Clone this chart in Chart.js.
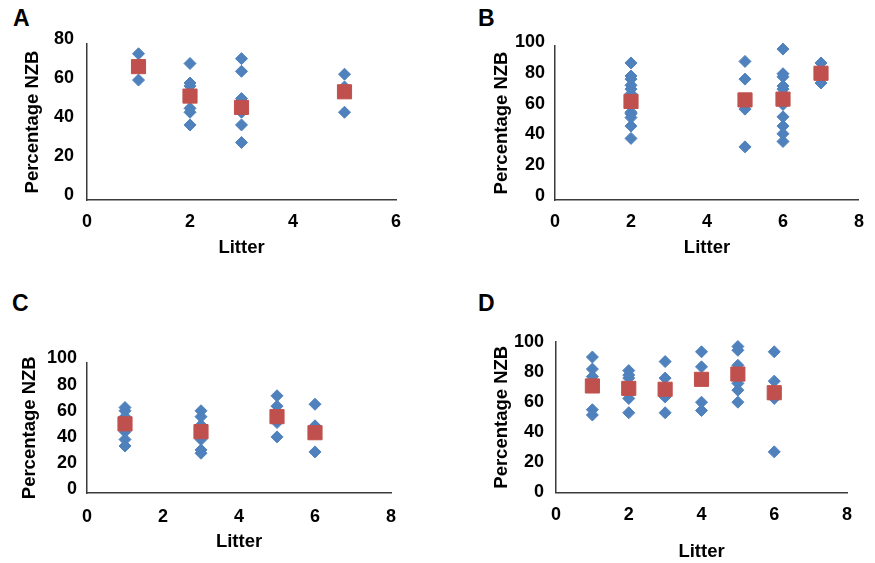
<!DOCTYPE html>
<html>
<head>
<meta charset="utf-8">
<script src="https://cdn.jsdelivr.net/npm/chart.js@4/dist/chart.umd.min.js"></script>
<style>
  body { margin: 0; background: #fff; }
  #page { position: relative; width: 875px; height: 563px; overflow: hidden; }
  canvas { position: absolute; }
  .tag { position: absolute; font: bold 23px "Liberation Sans", Arial, sans-serif; line-height: 23px; color: #000; }
</style>
</head>
<body>
<div id="page">
  <div class="tag" style="left:13px;top:7px">A</div>
  <div class="tag" style="left:478px;top:7px">B</div>
  <div class="tag" style="left:12px;top:292px">C</div>
  <div class="tag" style="left:478px;top:292px">D</div>
  <canvas id="chartA"></canvas>
  <canvas id="chartB"></canvas>
  <canvas id="chartC"></canvas>
  <canvas id="chartD"></canvas>
</div>
<script>
// Panel A
const litterA = [1, 1, 2, 2, 2, 2, 2, 2, 3, 3, 3, 3, 3, 3, 3, 5, 5, 5];
const nzbA    = [75, 61.5, 70, 60, 58.5, 47, 45, 38.5, 72.5, 66, 52, 50.5, 45, 38.5, 29.5, 64.5, 58, 45];
const meanLitterA = [1, 2, 3, 5];
const meanA       = [68.4, 53.3, 47.5, 55.5];

// Panel B
const litterB = [2, 2, 2, 2, 2, 2, 2, 2, 2, 2, 2, 2, 5, 5, 5, 5, 5, 6, 6, 6, 6, 6, 6, 6, 6, 6, 6, 6, 7, 7];
const nzbB    = [89, 80.5, 78.5, 74.5, 72, 69, 62, 57, 56, 53.5, 48, 40, 90, 78.5, 62, 59, 34.5,
                 98, 82, 80, 74, 72, 69, 62, 54, 48, 43, 38, 89, 76];
const meanLitterB = [2, 5, 6, 7];
const meanB       = [64, 65, 65.5, 82.3];

// Panel C
const litterC = [1, 1, 1, 1, 1, 1, 3, 3, 3, 3, 3, 3, 5, 5, 5, 5, 6, 6, 6];
const nzbC    = [65.5, 63, 58.5, 47, 41, 36, 63, 58.5, 52, 41, 33, 30.5, 74.5, 66.5, 54, 43, 68, 51.5, 31.5];
const meanLitterC = [1, 3, 5, 6];
const meanC       = [53, 47, 58.5, 46.2];

// Panel D
const litterD = [1, 1, 1, 1, 1, 2, 2, 2, 2, 2, 3, 3, 3, 3, 4, 4, 4, 4, 5, 5, 5, 5, 5, 5, 6, 6, 6, 6];
const nzbD    = [90, 82, 77, 55, 51.5, 81, 78, 76, 62.5, 53, 87, 76, 63.5, 53, 93.5, 83.5, 60, 54.5,
                 97, 94.5, 84.5, 72.5, 68, 60, 93.5, 74, 62.5, 27];
const meanLitterD = [1, 2, 3, 4, 5, 6];
const meanD       = [70.8, 69.2, 68.6, 75.2, 78.7, 66.3];

const FONT = '"Liberation Sans", Arial, sans-serif';
const TEXT = '#000';
const AXIS = '#3a3a3a';

function pts(xs, ys) {
  return xs.map((x, i) => ({ x: x, y: ys[i] }));
}

// box = canvas on the page, area = wanted plot area on the page
function makePanel(id, box, area, p) {
  const cv = document.getElementById(id);
  cv.style.left = box.x + 'px';
  cv.style.top = box.y + 'px';
  cv.width = box.w;
  cv.height = box.h;

  const yWidth = area.l - box.x;
  const xHeight = p.xTitleY - area.b + 11.1;

  new Chart(cv.getContext('2d'), {
    type: 'scatter',
    data: {
      datasets: [
        {
          data: pts(p.meanX, p.meanY),
          pointStyle: 'rect',
          pointRadius: 10,
          pointHoverRadius: 10,
          backgroundColor: '#C0504D',
          borderColor: '#C0504D',
          borderWidth: 1,
          clip: false,
          order: 0
        },
        {
          data: pts(p.xs, p.ys),
          pointStyle: 'rectRot',
          pointRadius: 6,
          pointHoverRadius: 6,
          backgroundColor: '#4F81BD',
          borderColor: '#4F81BD',
          borderWidth: 1,
          clip: false,
          order: 1
        }
      ]
    },
    options: {
      responsive: false,
      animation: false,
      events: [],
      layout: {
        padding: {
          left: 0,
          top: area.t - box.y,
          right: box.x + box.w - area.r,
          bottom: box.y + box.h - area.b - xHeight
        }
      },
      plugins: { legend: { display: false }, tooltip: { enabled: false } },
      scales: {
        x: {
          type: 'linear',
          min: 0, max: p.xMax,
          afterFit: s => { s.height = xHeight; },
          grid: { display: false, drawTicks: false },
          border: { display: true, color: AXIS, width: 1.5 },
          ticks: { stepSize: 2, padding: p.xPad, color: TEXT, font: { family: FONT, size: 18, weight: 'bold' } },
          title: { display: true, text: 'Litter', color: TEXT, padding: { top: 0, bottom: 0 },
                   font: { family: FONT, size: 18.5, weight: 'bold' } }
        },
        y: {
          min: 0, max: p.yMax,
          afterFit: s => { s.width = yWidth; },
          grid: { display: false, drawTicks: false },
          border: { display: true, color: AXIS, width: 1.5 },
          ticks: { stepSize: 20, padding: p.yPad, labelOffset: p.yOff, color: TEXT,
                   font: { family: FONT, size: 18, weight: 'bold' } },
          title: { display: true, text: 'Percentage NZB', color: TEXT,
                   padding: { top: p.yTitleX - box.x - 11.1, bottom: 0 },
                   font: { family: FONT, size: 18.5, weight: 'bold' } }
        }
      }
    }
  });
}

makePanel('chartA', { x: 0, y: 0, w: 437, h: 281 }, { l: 87, r: 396, t: 44, b: 200 },
  { xs: litterA, ys: nzbA, meanX: meanLitterA, meanY: meanA, xMax: 6, yMax: 80,
    xPad: 11, yPad: 13, yOff: -5, xTitleY: 248, yTitleX: 33 });

makePanel('chartB', { x: 437, y: 0, w: 438, h: 281 }, { l: 555, r: 867, t: 46, b: 200 },
  { xs: litterB, ys: nzbB, meanX: meanLitterB, meanY: meanB, xMax: 8, yMax: 100,
    xPad: 11, yPad: 10, yOff: -4, xTitleY: 248, yTitleX: 502 });

makePanel('chartC', { x: 0, y: 281, w: 437, h: 282 }, { l: 87, r: 391, t: 362.5, b: 493 },
  { xs: litterC, ys: nzbC, meanX: meanLitterC, meanY: meanC, xMax: 8, yMax: 100,
    xPad: 13, yPad: 10, yOff: -4, xTitleY: 541.7, yTitleX: 30 });

makePanel('chartD', { x: 437, y: 281, w: 438, h: 282 }, { l: 556, r: 847, t: 342, b: 492.5 },
  { xs: litterD, ys: nzbD, meanX: meanLitterD, meanY: meanD, xMax: 8, yMax: 100,
    xPad: 12, yPad: 12, yOff: 0, xTitleY: 551.7, yTitleX: 502 });
</script>
</body>
</html>
